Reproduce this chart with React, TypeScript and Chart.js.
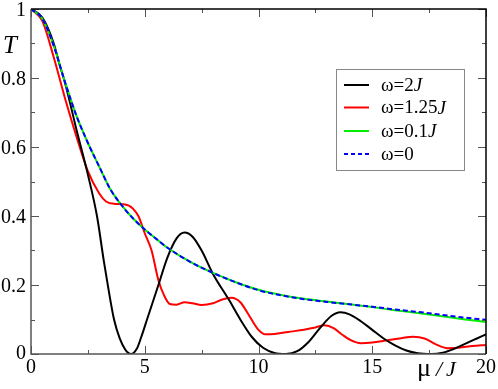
import React, { useEffect, useRef } from "react";
import { Chart, registerables } from "chart.js";

Chart.register(...registerables);

// ω = 2J (black)
const blackX = [0, 0.5, 1.0, 1.25, 1.5, 2.0, 2.5, 2.9, 3.2, 3.4, 3.65, 3.9, 4.15, 4.4, 4.65, 4.85, 5.1, 5.35, 5.6, 6.0, 6.4, 6.75, 7.1, 7.5, 8.0, 8.7, 9.2, 9.7, 10.2, 10.7, 11.2, 11.7, 12.2, 12.7, 13.2, 13.6, 14.0, 14.5, 15.0, 15.5, 16.0, 16.5, 17.0, 17.6, 18.1, 18.6, 19.1, 19.6, 20];
const blackY = [1, 0.975, 0.9, 0.84, 0.785, 0.65, 0.52, 0.4, 0.27, 0.19, 0.1, 0.045, 0.012, 0, 0.015, 0.05, 0.1, 0.15, 0.2, 0.28, 0.335, 0.352, 0.34, 0.3, 0.232, 0.157, 0.1, 0.05, 0.018, 0.003, 0, 0.008, 0.035, 0.075, 0.11, 0.121, 0.115, 0.095, 0.07, 0.045, 0.025, 0.01, 0.002, 0, 0.004, 0.015, 0.03, 0.045, 0.057];

// ω = 1.25J (red)
const redX = [0, 0.5, 1.0, 1.5, 2.0, 2.5, 3.0, 3.3, 3.7, 4.06, 4.3, 4.5, 4.72, 5.0, 5.3, 5.6, 5.85, 6.1, 6.4, 6.75, 7.1, 7.5, 8.0, 8.4, 8.8, 9.2, 9.6, 10.0, 10.3, 10.7, 11.3, 12.0, 12.5, 12.9, 13.3, 13.7, 14.0, 14.5, 15.0, 15.6, 16.2, 16.8, 17.3, 17.8, 18.3, 18.8, 19.4, 20];
const redY = [1, 0.965, 0.86, 0.74, 0.63, 0.53, 0.465, 0.442, 0.435, 0.434, 0.43, 0.42, 0.4, 0.35, 0.3, 0.214, 0.17, 0.145, 0.143, 0.15, 0.147, 0.142, 0.147, 0.158, 0.163, 0.15, 0.11, 0.07, 0.057, 0.058, 0.064, 0.07, 0.077, 0.083, 0.075, 0.055, 0.042, 0.031, 0.033, 0.039, 0.045, 0.05, 0.045, 0.028, 0.017, 0.018, 0.023, 0.026];

// ω = 0.1J (green)
const greenX = [0, 0.5, 1, 1.5, 2, 2.5, 3, 3.5, 4, 4.5, 5, 5.5, 6, 7, 8, 9, 10, 11, 12, 13, 14, 15, 16, 17, 18, 19, 20];
const greenY = [1, 0.972, 0.893, 0.787, 0.69, 0.612, 0.543, 0.476, 0.43, 0.392, 0.361, 0.334, 0.308, 0.267, 0.235, 0.208, 0.186, 0.171, 0.16, 0.152, 0.144, 0.136, 0.127, 0.119, 0.11, 0.101, 0.093];

// ω = 0 (blue dashed)
const blueX = [0, 0.5, 1, 1.5, 2, 2.5, 3, 3.5, 4, 4.5, 5, 5.5, 6, 7, 8, 9, 10, 11, 12, 13, 14, 15, 16, 17, 18, 19, 20];
const blueY = [1, 0.972, 0.893, 0.787, 0.69, 0.612, 0.543, 0.476, 0.43, 0.392, 0.361, 0.334, 0.308, 0.267, 0.235, 0.208, 0.185, 0.17, 0.159, 0.151, 0.144, 0.137, 0.129, 0.122, 0.114, 0.106, 0.099];

const seriesLabels = ["ω=2", "ω=1.25", "ω=0.1", "ω=0"];
const seriesItalic = ["J", "J", "J", ""];
const seriesColors = ["#000000", "#ff0000", "#00ee00", "#0000ff"];

const xTickLabels = ["0", "5", "10", "15", "20"];
const xTickValues = [0, 5, 10, 15, 20];
const yTickLabels = ["0", "0.2", "0.4", "0.6", "0.8", "1"];
const yTickValues = [0, 0.2, 0.4, 0.6, 0.8, 1];

const SERIF = "'Liberation Serif', 'Times New Roman', Times, serif";

function pts(xs: number[], ys: number[]) {
  return xs.map((x, i) => ({ x, y: ys[i] }));
}

const decorPlugin = {
  id: "decor",
  afterDatasetsDraw(chart: any) {
    const { ctx, chartArea, scales } = chart;
    const { left, right, top, bottom } = chartArea;
    const xs = scales.x;
    const ys = scales.y;
    ctx.save();
    // ticks (inward)
    ctx.strokeStyle = "#555";
    ctx.lineWidth = 1;
    for (let i = 0; i <= 8; i++) {
      const v = i * 2.5;
      const px = Math.round(xs.getPixelForValue(v)) + 0.5;
      const len = i % 2 === 0 ? 8 : 4;
      ctx.beginPath();
      ctx.moveTo(px, bottom);
      ctx.lineTo(px, bottom - len);
      ctx.moveTo(px, top);
      ctx.lineTo(px, top + len);
      ctx.stroke();
    }
    for (let i = 0; i <= 10; i++) {
      const v = i * 0.1;
      const py = Math.round(ys.getPixelForValue(v)) + 0.5;
      const len = i % 2 === 0 ? 8 : 4;
      ctx.beginPath();
      ctx.moveTo(left, py);
      ctx.lineTo(left + len, py);
      ctx.moveTo(right, py);
      ctx.lineTo(right - len, py);
      ctx.stroke();
    }
    // frame
    ctx.lineWidth = 1.5;
    ctx.strokeStyle = "#555";
    ctx.beginPath();
    ctx.moveTo(left, top);
    ctx.lineTo(left, bottom);
    ctx.lineTo(right, bottom);
    ctx.stroke();
    ctx.strokeStyle = "#000";
    ctx.beginPath();
    ctx.moveTo(left, top);
    ctx.lineTo(right, top);
    ctx.lineTo(right, bottom);
    ctx.stroke();

    // tick labels
    ctx.fillStyle = "#000";
    ctx.font = `20px ${SERIF}`;
    ctx.textBaseline = "alphabetic";
    ctx.textAlign = "center";
    xTickValues.forEach((v, i) => {
      ctx.fillText(xTickLabels[i], xs.getPixelForValue(v), bottom + 19);
    });
    ctx.textAlign = "right";
    yTickValues.forEach((v, i) => {
      const off = v === 0 ? 5 : 7;
      ctx.fillText(yTickLabels[i], left - 5, ys.getPixelForValue(v) + off);
    });

    // axis titles
    ctx.textAlign = "left";
    ctx.font = `italic 25px ${SERIF}`;
    ctx.fillText("T", 3, 53);
    ctx.font = `26px ${SERIF}`;
    ctx.fillText("μ", 417, 376);
    ctx.font = `italic 22px ${SERIF}`;
    ctx.fillText("/", 436, 376);
    ctx.fillText("J", 446, 376);

    // legend
    const bx = 336, by = 69, bw = 128, bh = 101;
    ctx.fillStyle = "#fff";
    ctx.fillRect(bx, by, bw, bh);
    ctx.strokeStyle = "#888";
    ctx.lineWidth = 1;
    ctx.strokeRect(bx + 0.5, by + 0.5, bw, bh);
    const rows = [85, 107.5, 131, 154];
    for (let i = 0; i < 4; i++) {
      const ry = rows[i];
      ctx.strokeStyle = seriesColors[i];
      ctx.lineWidth = 2;
      ctx.setLineDash(i === 3 ? [4, 3] : []);
      ctx.beginPath();
      ctx.moveTo(344, ry);
      ctx.lineTo(369, ry);
      ctx.stroke();
      ctx.setLineDash([]);
      ctx.fillStyle = "#000";
      ctx.textBaseline = "middle";
      ctx.font = `19px ${SERIF}`;
      ctx.fillText(seriesLabels[i], 381, ry + 1);
      if (seriesItalic[i]) {
        const w = ctx.measureText(seriesLabels[i]).width;
        ctx.font = `italic 19px ${SERIF}`;
        ctx.fillText(seriesItalic[i], 381 + w, ry + 1);
      }
    }
    ctx.restore();
  },
};

export default function App() {
  const ref = useRef<HTMLCanvasElement>(null);
  useEffect(() => {
    if (!ref.current) return;
    const mk = (label: string, data: any, color: string, order: number, dash?: number[]) => ({
      label,
      data,
      borderColor: color,
      backgroundColor: color,
      borderWidth: 2,
      borderDash: dash || [],
      pointRadius: 0,
      fill: false,
      cubicInterpolationMode: "monotone" as const,
      order,
    });
    const chart = new Chart(ref.current, {
      type: "line",
      data: {
        datasets: [
          mk("ω=2J", pts(blackX, blackY), seriesColors[0], 2),
          mk("ω=1.25J", pts(redX, redY), seriesColors[1], 3),
          mk("ω=0.1J", pts(greenX, greenY), seriesColors[2], 1),
          mk("ω=0", pts(blueX, blueY), seriesColors[3], 0, [5, 3]),
        ],
      },
      options: {
        responsive: false,
        animation: false,
        devicePixelRatio: 1,
        layout: { padding: { top: 9, right: 12, left: 0, bottom: 0 } },
        plugins: { legend: { display: false }, tooltip: { enabled: false } },
        scales: {
          x: {
            type: "linear",
            min: 0,
            max: 20,
            grid: { display: false, drawTicks: false },
            border: { display: false },
            ticks: { display: false, stepSize: 5 },
            afterFit: (s: any) => {
              s.height = 35;
              s.paddingLeft = 0;
              s.paddingRight = 0;
            },
          },
          y: {
            type: "linear",
            min: 0,
            max: 1,
            grid: { display: false, drawTicks: false },
            border: { display: false },
            ticks: { display: false, stepSize: 0.2 },
            afterFit: (s: any) => {
              s.width = 31;
              s.paddingTop = 0;
              s.paddingBottom = 0;
            },
          },
        },
      },
      plugins: [decorPlugin],
    });
    let alive = true;
    const fontSpecs = ['20px "Liberation Serif"', 'italic 20px "Liberation Serif"'];
    Promise.all(fontSpecs.map((f) => (document as any).fonts.load(f)))
      .catch(() => {})
      .then(() => {
        if (alive) chart.update();
      });
    return () => {
      alive = false;
      chart.destroy();
    };
  }, []);
  return (
    <div style={{ position: "fixed", left: 0, top: 0, width: 498, height: 389, background: "#fff" }}>
      <canvas ref={ref} width={498} height={389} style={{ display: "block", width: 498, height: 389 }} />
    </div>
  );
}
